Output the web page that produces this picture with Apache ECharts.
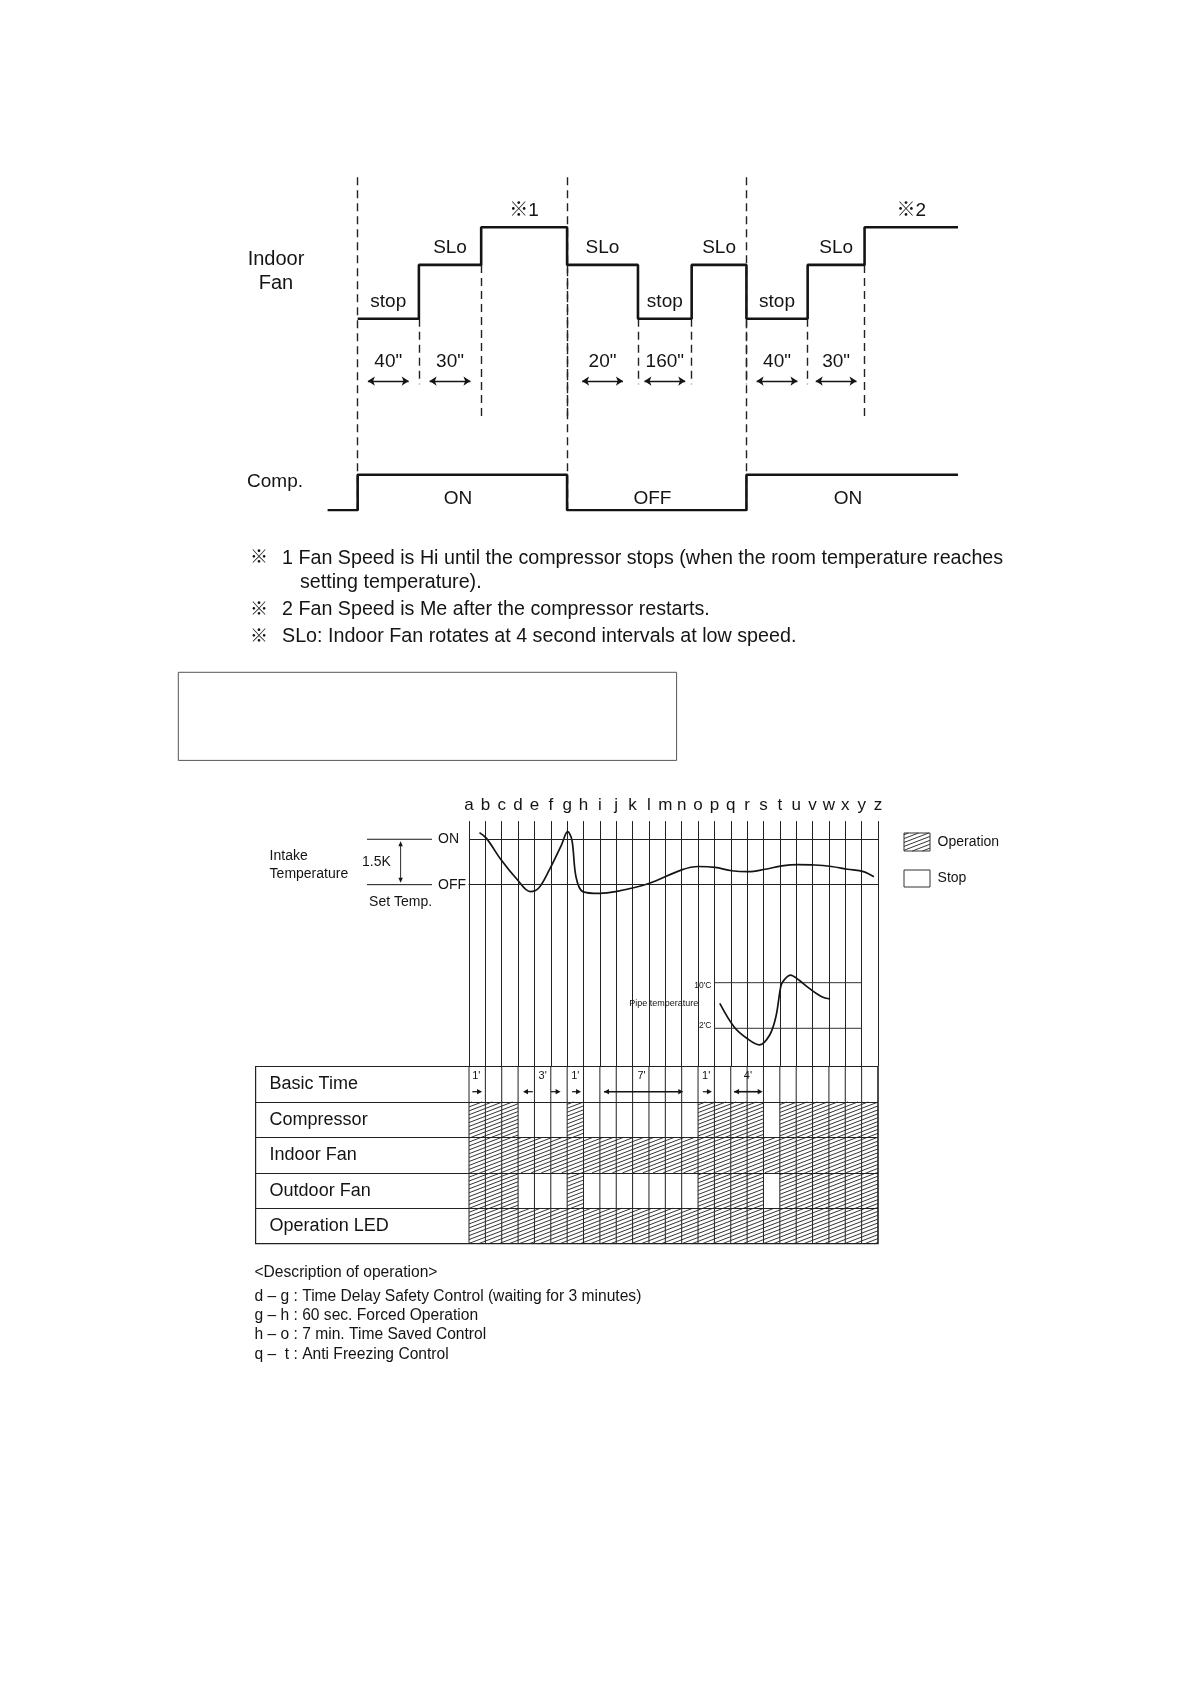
<!DOCTYPE html>
<html>
<head>
<meta charset="UTF-8">
<title>Indoor fan / compressor timing</title>
<script src="https://cdn.jsdelivr.net/npm/echarts@6/dist/echarts.min.js"></script>
<style>
    html, body {margin: 0; padding: 0; background: #fff;}
    #main {width: 1190px; height: 1684px;}
</style>
</head>
<body>
<div id="main"></div>
<script>
// ---- timing chart (schematic x units, level units) ----
var fanEdges = [28, 85, 143, 223, 289, 339, 390, 447, 500, 587];
var fanStates = ['stop', 'SLo', 'Hi', 'SLo', 'stop', 'SLo', 'stop', 'SLo', 'Hi'];
var fanNotes = ['stop', 'SLo', '※1', 'SLo', 'stop', 'SLo', 'stop', 'SLo', '※2'];
var fanDurations = ['40"', '30"', '', '20"', '160"', '', '40"', '30"', ''];
var compEdges = [0, 28, 223, 390, 587];
var compStates = ['OFF', 'ON', 'OFF', 'ON'];
var compNotes = ['', 'ON', 'OFF', 'ON'];
var levels = {stop: 178, SLo: 228, Hi: 263, OFF: 0, ON: 33};

// ---- intake / pipe temperature chart ----
var letters = 'abcdefghijklmnopqrstuvwxyz'.split('');
var intakeX = [0.64, 1.07, 1.96, 2.93, 3.74, 4.25, 4.91, 5.65, 6.03, 6.29, 6.54, 6.95, 7.97, 8.96, 10.99, 13.0, 14.03, 15.05, 16.06, 17.08, 18.1, 19.12, 20.11, 21.13, 22.15, 23.14, 24.11, 24.75];
var intakeK = [1.72, 1.53, 0.82, 0.18, -0.23, -0.12, 0.49, 1.31, 1.75, 1.48, 0.26, -0.23, -0.29, -0.23, 0.04, 0.49, 0.6, 0.57, 0.46, 0.43, 0.51, 0.62, 0.66, 0.65, 0.6, 0.51, 0.43, 0.26];
var pipeX = [15.33, 16.22, 16.98, 17.74, 18.38, 18.76, 19.02, 19.14, 19.65, 20.16, 20.8, 21.56, 22.07];
var pipeC = [6.38, 2.18, 0.25, -0.92, 0.83, 4.04, 8.72, 10.0, 11.34, 10.47, 9.0, 7.55, 7.14];
var pipeRefs = [10, 2];
var pipeRefRange = [15, 24];

// ---- table ----
var tableRows = ['Basic Time', 'Compressor', 'Indoor Fan', 'Outdoor Fan', 'Operation LED'];
var compressorOps = [1,1,1,0,0,0,1,0,0,0,0,0,0,0,1,1,1,1,0,1,1,1,1,1,1];
var indoorFanOps  = [1,1,1,1,1,1,1,1,1,1,1,1,1,1,1,1,1,1,1,1,1,1,1,1,1];
var outdoorFanOps = [1,1,1,0,0,0,1,0,0,0,0,0,0,0,1,1,1,1,0,1,1,1,1,1,1];
var ledOps        = [1,1,1,1,1,1,1,1,1,1,1,1,1,1,1,1,1,1,1,1,1,1,1,1,1];
var basicTimeLabels = ["1'", "3'", "1'", "7'", "1'", "4'"];
var basicTimeLabelX = [0.45, 4.5, 6.5, 10.55, 14.5, 17.05];
// arrow from, to, heads
var basicTimeArrows = [[0.2, 0.8, 'end'], [3.9, 3.3, 'end'], [5.0, 5.6, 'end'], [6.3, 6.85, 'end'],
    [8.25, 13.1, 'both'], [14.3, 14.85, 'end'], [16.2, 17.95, 'both']];

var FONT = "'Liberation Sans', Arial, 'Noto Sans CJK JP', sans-serif";
var INK = '#141414';

// layout
var topGrid = {left: 327.6, top: 176.7, width: 630.4, height: 333.5};
var plotLeft = 469, plotWidth = 409;
var colPx = plotWidth / 25;
var tableLeft = 255.6, tableTop = 1066.5, tableHeight = 177.2;

// build fan / comp step lines
var fanLine = [], fanLabels = [], durLabels = [], durArrows = [], guides = [];
for (var i = 0; i < fanStates.length; i++) {
    var lv = levels[fanStates[i]];
    fanLine.push([fanEdges[i], lv], [fanEdges[i + 1], lv]);
    var mid = (fanEdges[i] + fanEdges[i + 1]) / 2;
    fanLabels.push({name: fanNotes[i], value: [mid, lv + 15.5]});
    if (fanDurations[i]) {
        durLabels.push({name: fanDurations[i], value: [mid, 138]});
        durArrows.push({coords: [[mid - 19, 120], [mid + 19, 120]]});
    }
    if (i > 0) {
        var lower = Math.min(levels[fanStates[i - 1]], lv);
        var bottom = lower === levels.stop ? 117 : 86;
        guides.push({coords: [[fanEdges[i], lower], [fanEdges[i], bottom]]});
    }
}
var compLine = [], compLabels = [];
for (var j = 0; j < compStates.length; j++) {
    var cv = levels[compStates[j]];
    compLine.push([compEdges[j], cv], [compEdges[j + 1], cv]);
    if (compNotes[j]) compLabels.push({name: compNotes[j], value: [(compEdges[j] + compEdges[j + 1]) / 2 - 4, 11]});
}
for (var k = 1; k < compEdges.length - 1; k++) {
    guides.push({coords: [[compEdges[k], 0], [compEdges[k], 310]]});
}

function zip(a, b) { return a.map(function (v, i) { return [v, b[i]]; }); }

// hatch lines clipped to a rectangle
function hatch(x0, y0, w, h) {
    var m = Math.tan(21 * Math.PI / 180), gap = 3.9, out = [];
    var kMin = Math.floor((y0 + x0 * m) / gap) * gap, kMax = y0 + h + (x0 + w) * m;
    for (var kk = kMin; kk <= kMax; kk += gap) {
        var xa = Math.max(x0, (kk - y0 - h) / m), xb = Math.min(x0 + w, (kk - y0) / m);
        if (xb <= xa) continue;
        out.push({type: 'line', shape: {x1: xa, y1: kk - xa * m, x2: xb, y2: kk - xb * m},
            style: {stroke: '#1e1e1e', lineWidth: 0.9}});
    }
    return out;
}

var cells = [];
[compressorOps, indoorFanOps, outdoorFanOps, ledOps].forEach(function (ops, r) {
    ops.forEach(function (on, c) { if (on) cells.push([c, r + 1]); });
});

function arrowHead(x, y, dir) {
    return {type: 'polygon', shape: {points: [[x, y], [x - dir * 5, y - 2.6], [x - dir * 5, y + 2.6]]}, style: {fill: INK}};
}

var plainLabel = {show: true, position: 'inside', formatter: '{b}', color: INK, fontFamily: FONT,
    textBorderWidth: 0, textShadowBlur: 0};

var chart = echarts.init(document.getElementById('main'));
var option = {
    animation: false,
    backgroundColor: '#fff',
    textStyle: {fontFamily: FONT},
    grid: [
        {left: topGrid.left, top: topGrid.top, width: topGrid.width, height: topGrid.height},
        {left: plotLeft, top: 821.1, width: plotWidth, height: 245.2},
        {left: tableLeft, top: tableTop, width: plotLeft + plotWidth - tableLeft, height: tableHeight,
            show: true, borderColor: '#222', borderWidth: 1.2, backgroundColor: 'transparent'}
    ],
    xAxis: [
        {gridIndex: 0, type: 'value', min: 0, max: 587, show: false},
        {gridIndex: 1, type: 'value', min: 0, max: 25, interval: 1, position: 'top',
            axisLine: {show: true, lineStyle: {color: '#222', width: 1}}, axisTick: {show: false},
            axisLabel: {formatter: function (v) { return letters[v] || ''; }, fontSize: 17, color: INK, margin: 7,
                showMinLabel: true, showMaxLabel: true},
            splitLine: {show: true, lineStyle: {color: '#222', width: 1}}},
        {gridIndex: 2, type: 'value', min: -(plotLeft - tableLeft) / colPx, max: 25, show: false}
    ],
    yAxis: [
        {gridIndex: 0, type: 'value', min: 0, max: 310, show: false},
        {gridIndex: 1, type: 'value', min: -6, max: 2.1, interval: 1.5,
            axisLine: {show: false}, axisTick: {show: false}, splitLine: {show: false},
            axisLabel: {formatter: function (v) { return v === 1.5 ? 'ON' : (v === 0 ? 'OFF' : ''); },
                align: 'left', margin: 31, fontSize: 14, color: INK}},
        {gridIndex: 1, type: 'value', min: -4.67, max: 38.35, show: false},
        {gridIndex: 2, type: 'category', data: tableRows, inverse: true,
            axisLine: {show: false}, axisTick: {show: false},
            axisLabel: {inside: true, margin: 14, align: 'left', fontSize: 18, color: INK},
            splitLine: {show: true, lineStyle: {color: '#222', width: 1}}}
    ],
    series: [
        {type: 'line', xAxisIndex: 0, yAxisIndex: 0, data: fanLine, symbol: 'none',
            lineStyle: {color: INK, width: 2.6}},
        {type: 'line', xAxisIndex: 0, yAxisIndex: 0, data: compLine, symbol: 'none',
            lineStyle: {color: INK, width: 2.6}},
        {type: 'lines', coordinateSystem: 'cartesian2d', xAxisIndex: 0, yAxisIndex: 0, data: guides,
            symbol: 'none', lineStyle: {color: '#222', width: 1.4, type: [8, 5], opacity: 1}},
        {type: 'lines', coordinateSystem: 'cartesian2d', xAxisIndex: 0, yAxisIndex: 0, data: durArrows,
            symbol: ['arrow', 'arrow'], symbolSize: 7, lineStyle: {color: INK, width: 1.3, opacity: 1}},
        {type: 'scatter', xAxisIndex: 0, yAxisIndex: 0, data: fanLabels.concat(durLabels, compLabels),
            symbolSize: 0, itemStyle: {opacity: 1, color: INK},
            label: Object.assign({}, plainLabel, {fontSize: 19})},

        {type: 'line', xAxisIndex: 1, yAxisIndex: 1, data: zip(intakeX, intakeK), smooth: 0.35, symbol: 'none',
            lineStyle: {color: INK, width: 1.7},
            markLine: {silent: true, symbol: ['none', 'none'], label: {show: false},
                lineStyle: {color: '#222', width: 1, type: 'solid'}, data: [{yAxis: 1.5}, {yAxis: 0}]}},
        {type: 'line', xAxisIndex: 1, yAxisIndex: 2, symbol: 'circle', symbolSize: 0, itemStyle: {color: INK},
            data: [{value: [pipeRefRange[0], pipeRefs[0]], label: {show: true, formatter: "10'C"}}, [pipeRefRange[1], pipeRefs[0]]],
            label: {show: false, position: 'left', distance: 3, fontSize: 8.5, color: INK, offset: [0, 3]},
            lineStyle: {color: '#333', width: 1}},
        {type: 'line', xAxisIndex: 1, yAxisIndex: 2, symbol: 'circle', symbolSize: 0, itemStyle: {color: INK},
            data: [{value: [pipeRefRange[0], pipeRefs[1]], label: {show: true, formatter: "2'C"}}, [pipeRefRange[1], pipeRefs[1]]],
            label: {show: false, position: 'left', distance: 3, fontSize: 8.5, color: INK, offset: [0, -3]},
            lineStyle: {color: '#333', width: 1}},
        {type: 'line', xAxisIndex: 1, yAxisIndex: 2, data: zip(pipeX, pipeC), smooth: 0.35, symbol: 'none',
            lineStyle: {color: INK, width: 1.7}},
        {type: 'scatter', xAxisIndex: 1, yAxisIndex: 2, symbolSize: 0, itemStyle: {opacity: 1, color: INK},
            data: [{name: 'Pipe temperature', value: [11.9, 6.3]}],
            label: Object.assign({}, plainLabel, {fontSize: 9})},

        {type: 'custom', xAxisIndex: 2, yAxisIndex: 3, data: cells, silent: true,
            renderItem: function (params, api) {
                var c = api.coord([api.value(0) + 0.5, api.value(1)]);
                var s = api.size([1, 1]);
                return {type: 'group', children: hatch(c[0] - s[0] / 2, c[1] - s[1] / 2, s[0], s[1])};
            }},
        {type: 'custom', xAxisIndex: 2, yAxisIndex: 3, silent: true,
            data: letters.map(function (l, i) { return [i, 0]; }),
            renderItem: function (params, api) {
                var x = api.coord([api.value(0), 0])[0], cs = params.coordSys;
                return {type: 'line', shape: {x1: x, y1: cs.y, x2: x, y2: cs.y + cs.height},
                    style: {stroke: '#222', lineWidth: 1}};
            }},
        {type: 'custom', xAxisIndex: 2, yAxisIndex: 3, silent: true,
            data: basicTimeArrows.map(function (a, i) { return [a[0], a[1], i]; }),
            renderItem: function (params, api) {
                var i = api.value(2), a = basicTimeArrows[i];
                var p1 = api.coord([a[0], 0]), p2 = api.coord([a[1], 0]);
                var y = p1[1] + 7.5, dir = p2[0] > p1[0] ? 1 : -1;
                var kids = [{type: 'line', shape: {x1: p1[0], y1: y, x2: p2[0] - dir * 3, y2: y},
                    style: {stroke: INK, lineWidth: a[2] === 'both' ? 1.6 : 1.2}}, arrowHead(p2[0], y, dir)];
                if (a[2] === 'both') kids.push(arrowHead(p1[0], y, -dir));
                if (i < basicTimeLabels.length) {
                    var t = api.coord([basicTimeLabelX[i], 0]);
                    kids.push({type: 'text', x: t[0], y: t[1] - 8,
                        style: {text: basicTimeLabels[i], fontSize: 11, fontFamily: FONT, fill: INK, align: 'center', verticalAlign: 'middle'}});
                }
                return {type: 'group', children: kids};
            }}
    ]
};
chart.setOption(option);

// annotations outside the plot areas, placed from the axis scales
var onPx = chart.convertToPixel({xAxisIndex: 1, yAxisIndex: 1}, [0, 1.5]);
var offPx = chart.convertToPixel({xAxisIndex: 1, yAxisIndex: 1}, [0, 0]);
function txt(s, x, y, size, align) {
    return {type: 'text', x: x, y: y, style: {text: s, fontSize: size, fontFamily: FONT, fill: INK,
        align: align || 'left', verticalAlign: 'middle'}};
}
function ln(x1, y1, x2, y2, w) {
    return {type: 'line', shape: {x1: x1, y1: y1, x2: x2, y2: y2}, style: {stroke: INK, lineWidth: w || 1}};
}
var ax = 400.6;
var graphics = [
    txt('Indoor', 276, 259, 20, 'center'), txt('Fan', 276, 283, 20, 'center'),
    txt('Comp.', 275, 482, 19, 'center'),
    txt('※', 250, 558.5, 18), txt('1 Fan Speed is Hi until the compressor stops (when the room temperature reaches', 282, 558.5, 19.7),
    txt('setting temperature).', 300, 583, 19.7),
    txt('※', 250, 610, 18), txt('2 Fan Speed is Me after the compressor restarts.', 282, 610, 19.7),
    txt('※', 250, 637, 18), txt('SLo: Indoor Fan rotates at 4 second intervals at low speed.', 282, 637, 19.7),
    {type: 'rect', shape: {x: 178.3, y: 672.3, width: 498.3, height: 88.1}, style: {fill: 'none', stroke: '#555', lineWidth: 1}},
    ln(367, onPx[1], 432, onPx[1]), ln(367, offPx[1], 432, offPx[1]),
    ln(ax, onPx[1] + 5, ax, offPx[1] - 5, 0.9),
    {type: 'polygon', shape: {points: [[ax, onPx[1] + 2], [ax - 2.2, onPx[1] + 7], [ax + 2.2, onPx[1] + 7]]}, style: {fill: INK}},
    {type: 'polygon', shape: {points: [[ax, offPx[1] - 2], [ax - 2.2, offPx[1] - 7], [ax + 2.2, offPx[1] - 7]]}, style: {fill: INK}},
    txt('1.5K', 362, (onPx[1] + offPx[1]) / 2, 14),
    txt('Intake', 269.6, 856, 14), txt('Temperature', 269.6, 874, 14),
    txt('Set Temp.', 400.6, 902, 14, 'center'),
    {type: 'group', children: hatch(904, 833, 26, 18).concat([{type: 'rect', shape: {x: 904, y: 833, width: 26, height: 18},
        style: {fill: 'none', stroke: '#333', lineWidth: 1}}])},
    txt('Operation', 937.6, 842, 14),
    {type: 'rect', shape: {x: 904, y: 870, width: 26, height: 17}, style: {fill: '#fff', stroke: '#333', lineWidth: 1}},
    txt('Stop', 937.6, 878.5, 14),
    txt('<Description of operation>', 254.5, 1272.7, 15.6),
    txt('d \u2013 g : Time Delay Safety Control (waiting for 3 minutes)', 254.5, 1296.3, 15.6),
    txt('g \u2013 h : 60 sec. Forced Operation', 254.5, 1315.7, 15.6),
    txt('h \u2013 o : 7 min. Time Saved Control', 254.5, 1335, 15.6),
    txt('q \u2013  t : Anti Freezing Control', 254.5, 1354.3, 15.6)
];
chart.setOption({graphic: graphics});
</script>
</body>
</html>
